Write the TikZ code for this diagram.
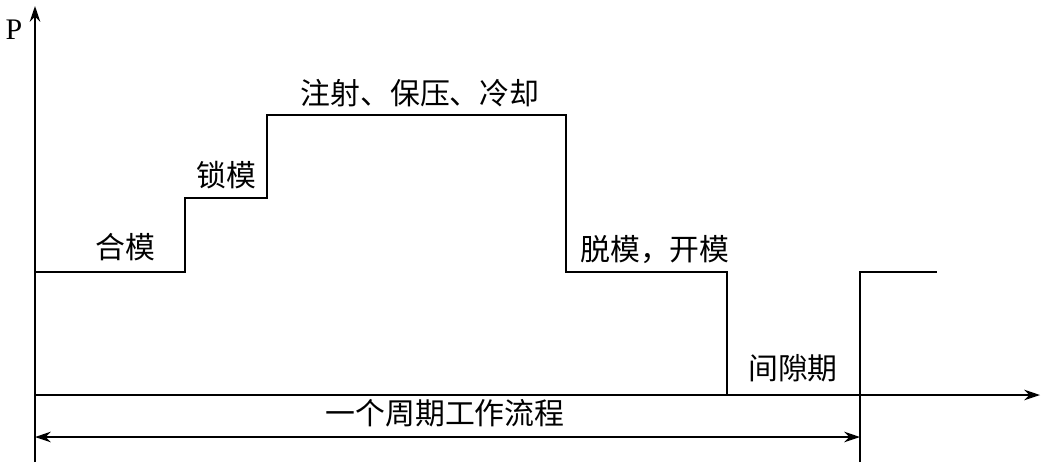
\documentclass[tikz,border=0pt]{standalone}
\usepackage{fontspec}
\setmainfont{Liberation Serif}
\newfontfamily\cjk{Noto Sans CJK SC}
\usetikzlibrary{arrows.meta, positioning}

\tikzset{
  axisline/.style={line width=0.9pt, -{Stealth[length=9pt, width=6pt]}},
  curveline/.style={line width=1pt},
  steplabel/.style={font=\cjk\fontsize{17}{20}\selectfont, inner sep=1pt}
}

\begin{document}
\begin{tikzpicture}[x=0.02cm, y=-0.02cm]
        \useasboundingbox (0,0) rectangle (1044,467);

        % Axes
        \coordinate (origin) at (35,395);
        \coordinate (ybot) at (35,462);
        \coordinate (ytop) at (35,6);
        \coordinate (xend) at (1040,395);
        \draw[axisline] (ybot) -- (ytop);
        \draw[axisline] (origin) -- (xend);
        \node[font=\fontsize{17}{20}\selectfont] (plabel) at (14,30) {P};

        % Pressure steps
        \coordinate (s0) at (35,272);
        \coordinate (s1) at (185,272);
        \coordinate (s2) at (185,198);
        \coordinate (s3) at (267,198);
        \coordinate (s4) at (267,115);
        \coordinate (s5) at (566,115);
        \coordinate (s6) at (566,272);
        \coordinate (s7) at (727,272);
        \coordinate (s8) at (727,395);
        \draw[curveline] (s0) -- (s1) -- (s2) -- (s3) -- (s4) -- (s5) -- (s6) -- (s7) -- (s8);

        % Next cycle
        \coordinate (n0) at (860,462);
        \coordinate (n1) at (860,272);
        \coordinate (n2) at (937,272);
        \draw[curveline] (n0) -- (n1) -- (n2);

        % Stage labels
        \node[steplabel] (close) at (125,247) {合模};
        \node[steplabel] (lock) at (226,175) {锁模};
        \node[steplabel] (inject) at (420,93) {注射、保压、冷却};
        \node[steplabel] (eject) at (655,250) {脱模，开模};
        \node[steplabel] (gap) at (793,368) {间隙期};

        % Cycle span
        \coordinate (cyc0) at (35,437);
        \coordinate (cyc1) at (860,437);
        \draw[line width=0.9pt, {Stealth[length=9pt, width=6pt]}-{Stealth[length=9pt, width=6pt]}] (cyc0) -- (cyc1);
        \node[steplabel] (cycle) at (445,413) {一个周期工作流程};
    \end{tikzpicture}
\end{document}
